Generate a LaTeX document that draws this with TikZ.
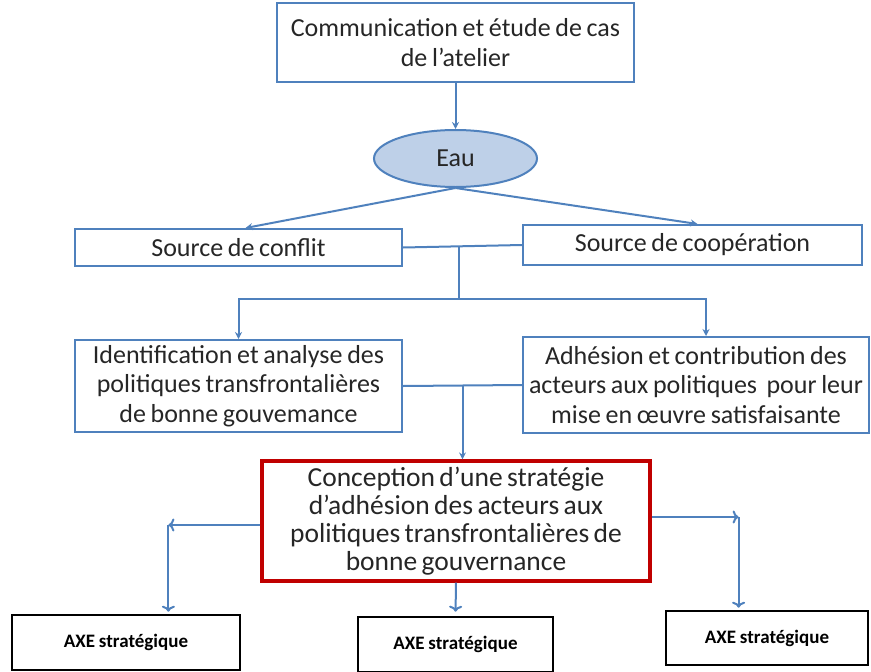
\documentclass[tikz,border=0pt]{standalone}
\usepackage{fontspec}
\setmainfont{Carlito}
\usepackage{tikz}
\usetikzlibrary{shapes.geometric, positioning, calc}
\usetikzlibrary{arrows.meta}
\definecolor{lineblue}{RGB}{79,129,189}
\definecolor{eaufill}{RGB}{190,208,232}
\definecolor{boxred}{RGB}{192,0,0}
\definecolor{textgray}{RGB}{38,38,38}
\newcommand{\boxfont}{\fontsize{26}{29.5}\selectfont\spaceskip=0.18em plus 0.05em\relax}
\newcommand{\keyfont}{\fontsize{27.5}{28}\selectfont\spaceskip=0.16em plus 0.05em\relax}
\newcommand{\axefont}{\bfseries\fontsize{19}{21}\selectfont\spaceskip=0.2em\relax}
\tikzstyle{box} = [rectangle, draw=lineblue, line width=2pt, align=center, text=textgray, inner sep=0pt, font=\boxfont]
\tikzstyle{water} = [ellipse, draw=lineblue, fill=eaufill, line width=2pt, minimum width=163pt, minimum height=57pt, text=textgray, inner sep=0pt, font=\boxfont]
\tikzstyle{keybox} = [box, draw=boxred, line width=3.2pt, font=\keyfont]
\tikzstyle{axe} = [rectangle, draw=black, line width=2.6pt, minimum height=55pt, text=black, inner sep=0pt, font=\axefont]
\tikzstyle{link} = [lineblue, line width=2pt]
\tikzstyle{arrow} = [link, -{Stealth[length=7pt,width=7pt]}]
\tikzstyle{arrowv} = [link, -{To[length=6pt,width=13pt]}]

\begin{document}
\begin{tikzpicture}[x=1pt, y=1pt]
            \useasboundingbox (0,0) rectangle (871,-672);
            \node (comm) [box, minimum width=357pt, minimum height=79pt] at (455.5,-42.5) {Communication et étude de cas\\de l’atelier};
            \node (eau) [water, below=46pt of comm] {Eau};
            \node (conflit) [box, minimum width=327pt, minimum height=37pt] at (238.5,-247.5) {Source de conflit};
            \node (coop) [box, minimum width=339pt, minimum height=40pt] at (692.5,-245) {Source de coopération};
            \node (ident) [box, minimum width=327pt, minimum height=92pt] at (238.5,-386) {Identification et analyse des\\politiques transfrontalières\\de bonne gouvemance};
            \node (adh) [box, minimum width=346pt, minimum height=96pt] at (696,-385) {Adhésion et contribution des\\acteurs aux politiques\ \ pour leur\\mise en œuvre satisfaisante};
            \node (concep) [keybox, minimum width=388pt, minimum height=120pt] at (456,-521) {Conception d’une stratégie\\d’adhésion des acteurs aux\\politiques transfrontalières de\\bonne gouvernance};
            \node (axe1) [axe, minimum width=228pt] at (126,-642.5) {AXE stratégique};
            \node (axe2) [axe, minimum width=195pt] at (455.5,-644.5) {AXE stratégique};
            \node (axe3) [axe, minimum width=202pt, minimum height=54pt] at (767,-638) {AXE stratégique};

            \coordinate (j1) at ($(conflit.east)!0.47!(coop.west)$);
            \coordinate (bar1) at ($(j1)+(0,-53)$);
            \coordinate (j2) at ($(ident.east)!0.5!(adh.west)$);
            \coordinate (cornerL) at ($(concep.west)+(-92,-4)$);
            \coordinate (cornerR) at ($(concep.east)+(87,4)$);

            \draw [arrow] (comm) -- (eau);
            \draw [arrow] (eau.south) -- ($(conflit.north)+(7,0)$);
            \draw [arrow] (eau.south) -- ($(coop.north)+(5,0)$);
            \draw [link] (conflit.east) -- (coop.west);
            \draw [link] (j1) -- (bar1);
            \draw [arrow] (bar1) -| (ident.north);
            \draw [arrow] (bar1) -| ($(adh.north)+(10,0)$);
            \draw [link] (ident.east) -- (adh.west);
            \draw [arrow] (j2) -- (j2 |- concep.north);
            \draw [arrowv] (concep.west |- cornerL) -- (cornerL);
            \draw [arrowv, shorten >=2pt] (cornerL) -- (cornerL |- axe1.north);
            \draw [arrowv, shorten >=4pt] (concep.south) -- (axe2.north);
            \draw [arrowv] (concep.east |- cornerR) -- (cornerR);
            \draw [arrowv, shorten >=2pt] (cornerR) -- (cornerR |- axe3.north);
        \end{tikzpicture}
\end{document}
